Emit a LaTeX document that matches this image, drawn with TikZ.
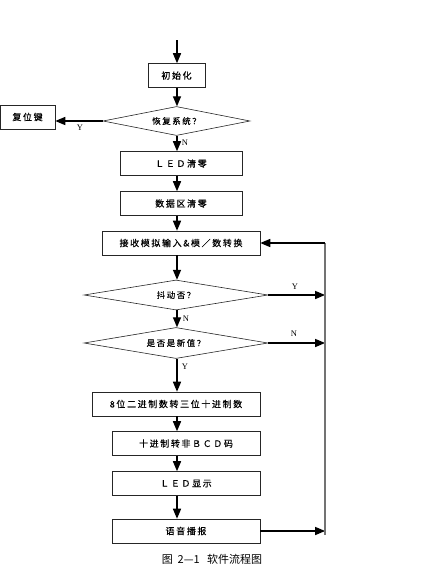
\documentclass[tikz,border=0pt]{standalone}
\usepackage{fontspec}
\setmainfont{Liberation Serif}
\newfontfamily\cjk[LetterSpace=18,FakeBold=0.3]{Noto Sans CJK SC}
\newfontfamily\cjkcap{Noto Sans CJK SC}
\usepackage{pgf,tikz}
\usetikzlibrary{arrows,shapes.geometric}

\begin{document}
\begin{tikzpicture}[>=triangle 45,x=1pt,y=-1pt,
		box/.style={draw=black!85,line width=0.7pt,minimum height=24pt,inner sep=0pt,font=\cjk\fontsize{9}{10}\selectfont},
		dia/.style={diamond,aspect=6,draw=black!85,line width=0.6pt,minimum width=184pt,minimum height=30pt,inner sep=0pt,font=\cjk\fontsize{8.5}{10}\selectfont},
		lbl/.style={inner sep=0pt,font=\fontsize{8.5}{10}\selectfont},
		flow/.style={->,line width=1.3pt}]
		\useasboundingbox (0,0) rectangle (427,566);
		
		\foreach \n/\x/\y/\w/\t in
			{init/176.5/75.5/57/初始化,reset/27.5/117/55/复位键,
			 led/181/163.5/122/ＬＥＤ清零,clr/181/203.5/122/数据区清零,
			 recv/181/243/158/接收模拟输入\&模／数转换,
			 conv/176/404/168/8位二进制数转三位十进制数,bcd/186/443.5/148/十进制转非ＢＣＤ码,
			 show/186/483.5/148/ＬＥＤ显示,speak/186/531/148/语音播报}
				\node[box,minimum width=\w pt] (\n) at (\x,\y) {\t};
		
		\node[dia,minimum width=147pt,minimum height=29pt] (restore) at (176.5,121) {恢复系统？};
		\node[dia] (jitter) at (176,295) {抖动否？};
		\node[dia,minimum height=31pt] (isnew) at (176,343) {是否是新值？};
		
		\coordinate (in) at (177,40);
		\coordinate (back) at (325,243);
		
		\draw[flow] (in) -- (init.north -| in);
		\draw[flow] (init.south -| in) -- (restore.north -| in);
		\draw[flow] (restore.west) -- (restore.west -| reset.east);
		\draw[flow] (restore.south -| in) -- (led.north -| in);
		\draw[flow] (led.south -| in) -- (clr.north -| in);
		\draw[flow] (clr.south -| in) -- (recv.north -| in);
		\draw[flow] (recv.south -| in) -- (jitter.north -| in);
		\draw[flow] (jitter.south -| in) -- (isnew.north -| in);
		\draw[flow] (isnew.south -| in) -- (conv.north -| in);
		\draw[flow] (conv.south -| in) -- (bcd.north -| in);
		\draw[flow] (bcd.south -| in) -- (show.north -| in);
		\draw[flow] (show.south -| in) -- (speak.north -| in);
		\draw[flow] (jitter.east) -- (jitter.east -| back);
		\draw[flow] (isnew.east) -- (isnew.east -| back);
		\draw[flow] (speak.east) -- (speak.east -| back);
		\draw[black!55,line width=1.3pt] (speak.east -| back) ++(0,4) -- (back);
		\draw[flow] (back) -- (recv.east);
		
		\foreach \n/\x/\y/\t in
			{yreset/80/128/Y,nled/185/143/N,yjit/295/287/Y,njit/186/319/N,nnew/294/334/N,ynew/185/367/Y}
				\node[lbl] (\n) at (\x,\y) {\t};
		
		\node[font=\cjkcap\fontsize{11}{12}\selectfont] (cap) at (212,559) {图\ \ 2—1\ \ \ 软件流程图};
	\end{tikzpicture}
\end{document}
